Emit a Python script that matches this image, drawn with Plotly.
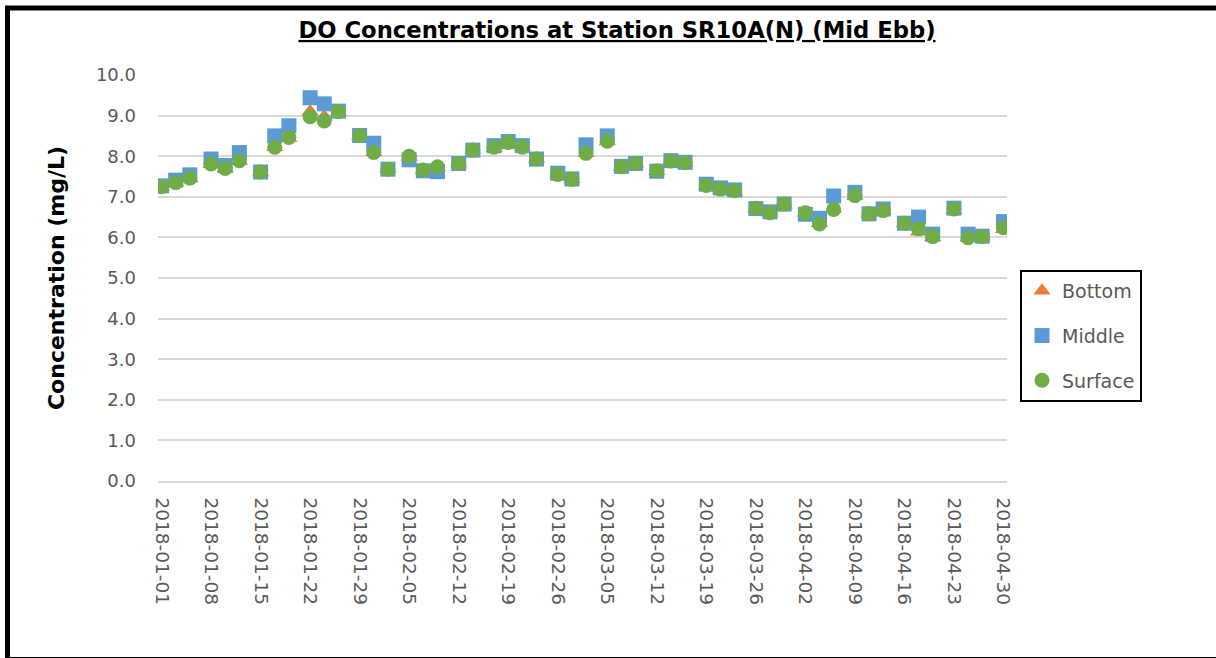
import plotly.graph_objects as go

dates = [
    "2018-01-01", "2018-01-03", "2018-01-05", "2018-01-08", "2018-01-10", "2018-01-12",
    "2018-01-15", "2018-01-17", "2018-01-19", "2018-01-22", "2018-01-24", "2018-01-26",
    "2018-01-29", "2018-01-31", "2018-02-02", "2018-02-05", "2018-02-07", "2018-02-09",
    "2018-02-12", "2018-02-14", "2018-02-17", "2018-02-19", "2018-02-21", "2018-02-23",
    "2018-02-26", "2018-02-28", "2018-03-02", "2018-03-05", "2018-03-07", "2018-03-09",
    "2018-03-12", "2018-03-14", "2018-03-16", "2018-03-19", "2018-03-21", "2018-03-23",
    "2018-03-26", "2018-03-28", "2018-03-30", "2018-04-02", "2018-04-04", "2018-04-06",
    "2018-04-09", "2018-04-11", "2018-04-13", "2018-04-16", "2018-04-18", "2018-04-20",
    "2018-04-23", "2018-04-25", "2018-04-27", "2018-04-30",
]

bottom = [
    7.25, 7.35, 7.45, 7.80, 7.70, 7.88, 7.60, 8.22, 8.45, 9.10, 8.98, 9.08,
    8.50, 8.10, 7.68, 7.98, 7.66, 7.72, 7.82, 8.15, 8.20, 8.34, 8.22, 7.93,
    7.55, 7.43, 8.07, 8.36, 7.73, 7.82, 7.63, 7.88, 7.84, 7.28, 7.17, 7.12,
    6.71, 6.61, 6.80, 6.61, 6.35, 6.70, 7.02, 6.58, 6.66, 6.35, 6.14, 6.00,
    6.67, 5.99, 6.02, 6.20,
]

middle = [
    7.27, 7.41, 7.54, 7.93, 7.77, 8.09, 7.61, 8.50, 8.75, 9.44, 9.29, 9.11,
    8.51, 8.32, 7.68, 7.91, 7.64, 7.62, 7.82, 8.15, 8.26, 8.36, 8.26, 7.93,
    7.58, 7.44, 8.28, 8.50, 7.75, 7.82, 7.63, 7.89, 7.85, 7.31, 7.22, 7.17,
    6.71, 6.63, 6.82, 6.57, 6.47, 7.02, 7.11, 6.58, 6.70, 6.35, 6.50, 6.08,
    6.72, 6.08, 6.03, 6.39,
]

surface = [
    7.25, 7.35, 7.46, 7.81, 7.70, 7.89, 7.61, 8.22, 8.46, 8.97, 8.87, 9.10,
    8.51, 8.09, 7.68, 8.00, 7.66, 7.74, 7.82, 8.15, 8.22, 8.34, 8.22, 7.93,
    7.55, 7.43, 8.07, 8.37, 7.74, 7.82, 7.64, 7.88, 7.84, 7.28, 7.19, 7.15,
    6.72, 6.61, 6.82, 6.61, 6.33, 6.69, 7.03, 6.58, 6.66, 6.35, 6.21, 6.02,
    6.70, 5.99, 6.02, 6.24,
]

series = [
    ("Bottom", bottom, "triangle-up", "#ED7D31", 15),
    ("Middle", middle, "square", "#5B9BD5", 15),
    ("Surface", surface, "circle", "#70AD47", 15),
]

FONT = "DejaVu Sans"
GRID = "#D9D9D9"
TXT = "#595959"

fig = go.Figure()
for name, vals, sym, col, sz in series:
    fig.add_trace(go.Scatter(
        x=dates, y=vals, mode="markers", name=name, legendgroup=name,
        marker=dict(symbol=sym, color=col, size=sz, line=dict(width=0)),
    ))

fig.update_layout(
    width=1216, height=658,
    margin=dict(l=158, r=209, t=75, b=177),
    paper_bgcolor="white", plot_bgcolor="white",
    title=dict(
        text="<b><u>DO Concentrations at Station SR10A(N) (Mid Ebb)</u></b>",
        font=dict(family=FONT, size=22.7, color="black"),
        x=617 / 1216, xref="container", xanchor="center",
        y=1 - 30 / 658, yref="container", yanchor="middle",
    ),
    xaxis=dict(
        type="date",
        range=["2017-12-31 12:00", "2018-04-30 12:00"],
        tick0="2018-01-01", dtick=7 * 24 * 3600 * 1000,
        tickformat="%Y-%m-%d", tickangle=90,
        tickfont=dict(family=FONT, size=18.5, color=TXT),
        showgrid=False, showline=True, linecolor=GRID, linewidth=1.5,
        ticks="", ticklabelstandoff=11,
        zeroline=False,
    ),
    yaxis=dict(
        range=[0, 10], dtick=1, tickformat=".1f",
        tickfont=dict(family=FONT, size=18, color=TXT),
        showgrid=True, gridcolor=GRID, gridwidth=1.5,
        zeroline=False, showline=False, ticks="", ticklabelstandoff=21,
        title=dict(text="<b>Concentration (mg/L)</b>",
                   font=dict(family=FONT, size=22, color="black"), standoff=25),
    ),
    legend=dict(
        x=(1020 - 158) / 849, xanchor="left",
        y=(481 - 270) / 406, yanchor="top",
        bordercolor="black", borderwidth=2, bgcolor="white",
        font=dict(family=FONT, size=19, color=TXT),
        tracegroupgap=17, traceorder="grouped",
    ),
    showlegend=True,
    shapes=[dict(
        type="rect", xref="paper", yref="paper",
        x0=(7.5 - 158) / 849, x1=(1225 - 158) / 849,
        y0=(481 - 659.5) / 406, y1=(481 - 8) / 406,
        line=dict(color="black", width=5), fillcolor="rgba(0,0,0,0)",
        layer="above",
    )],
)

fig.write_html("out.html", config={"displayModeBar": False},
               post_script="document.body.style.margin='0px';")
